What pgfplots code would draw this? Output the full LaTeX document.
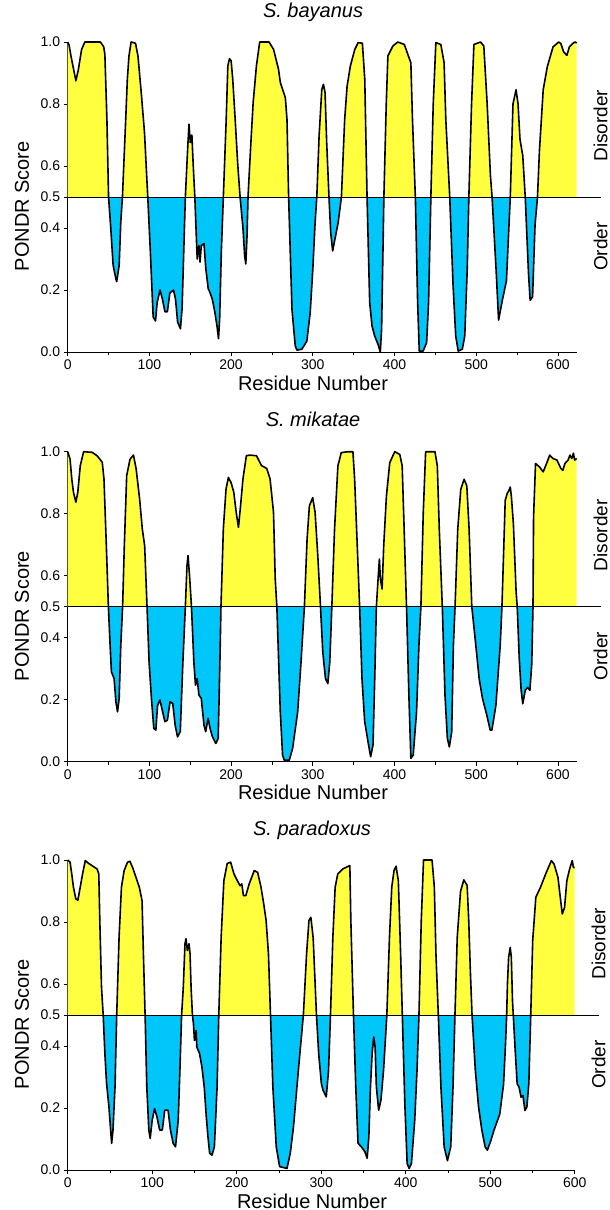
\documentclass[border=0pt]{standalone}
\usepackage{fontspec}
\setmainfont{Liberation Sans}
\usepackage{pgfplots}
\pgfplotsset{compat=1.18}
\usepackage{pgfplotstable}

\definecolor{dis}{RGB}{255,255,64}
\definecolor{ord}{RGB}{0,198,250}

% PONDR scores
\pgfplotstableread{
x y
0 1.0
1.7 0.99
4 0.955
10 0.875
13 0.91
17 0.976
21 1.0
40 1.0
44 0.985
45.5 0.96
48 0.75
50 0.5
52.7 0.40
55.6 0.28
59 0.236
60 0.227
63 0.28
65 0.42
67 0.5
71 0.75
73 0.88
75 0.955
77.6 1.0
83 0.996
86 0.955
90 0.837
94 0.708
98 0.5
101 0.333
104.6 0.113
107.5 0.10
109.5 0.16
113 0.2
116 0.17
119 0.13
122 0.13
125 0.19
129.5 0.2
132 0.17
134.5 0.097
138 0.075
140 0.14
142 0.32
144 0.5
147 0.665
148.5 0.735
150 0.676
152 0.70
153.5 0.61
155.6 0.5
157.7 0.354
158.5 0.30
160.6 0.343
162 0.29
163.5 0.343
166.8 0.35
169 0.27
172 0.204
174 0.193
177 0.17
180 0.13
182.6 0.086
184.6 0.043
186 0.107
188 0.32
190.5 0.5
194 0.75
196 0.923
198 0.946
200 0.94
202 0.88
205 0.75
208 0.61
211 0.5
214.5 0.40
216.6 0.31
218 0.284
219.5 0.375
220.7 0.5
224 0.665
227 0.805
231 0.923
235 1.0
246.5 1.0
252 0.976
258 0.912
260.3 0.869
266.4 0.82
268.4 0.75
270.4 0.5
274.5 0.138
278.5 0.02
280.6 0.006
286.6 0.009
292.7 0.035
296.8 0.127
300 0.267
302.8 0.417
304.9 0.5
307.7 0.697
311 0.847
313 0.863
315 0.837
317 0.675
319.8 0.5
321.9 0.385
324.3 0.326
327 0.363
331 0.417
335 0.5
339 0.75
342 0.858
346 0.923
351.4 0.976
355.5 0.998
360.7 0.996
363.6 0.88
366.4 0.5
369.6 0.16
372.5 0.084
375.7 0.052
379.8 0.025
382.6 0.0
384.2 0.073
387 0.5
389.9 0.80
391.9 0.955
398 0.987
404 1.0
412 0.992
417 0.955
420 0.933
422 0.75
425.5 0.5
428.3 0.16
430.3 0.003
435 0.003
439.3 0.03
441.7 0.16
444.5 0.5
447.4 0.80
450.6 0.998
456.7 0.992
460.7 0.933
462.8 0.75
467.6 0.5
471.7 0.213
474.9 0.052
478 0.003
483 0.009
486 0.052
489 0.267
491 0.5
494.3 0.80
497.2 0.992
505.3 1.0
509.3 0.987
513.4 0.80
517.4 0.57
519.4 0.5
524.3 0.267
527.4 0.103
532 0.167
537 0.23
541.7 0.5
545 0.8
548.8 0.846
551.2 0.80
553.6 0.686
557 0.633
560 0.5
564 0.253
566 0.167
569 0.178
572 0.41
575 0.5
577.4 0.65
582 0.846
587 0.92
594 0.984
601 1.0
603.6 0.995
607 0.968
611 0.957
614 0.984
618 0.995
621 1.0
623 0.997
}\bayanus

\pgfplotstableread{
x y
0 1.0
2.9 0.976
5 0.912
7 0.87
10 0.837
12.4 0.87
15.4 0.955
19.5 1.0
30 0.998
36 0.987
42.3 0.966
44.4 0.912
47.3 0.697
49.8 0.5
51.9 0.376
53.5 0.29
56.8 0.268
59 0.193
61 0.161
63 0.204
65 0.376
67.2 0.5
69.3 0.697
72.2 0.923
76.3 0.976
80.5 0.989
83.8 0.944
88 0.848
91.3 0.751
94.2 0.697
97.1 0.5
99.6 0.322
102.5 0.204
105.4 0.107
107.9 0.102
110 0.182
112.9 0.199
116.2 0.161
119 0.129
122 0.134
125.3 0.193
128.6 0.188
131.5 0.118
134.4 0.08
137.8 0.097
141 0.322
144 0.5
146 0.633
147.3 0.665
149.4 0.59
151.5 0.5
154.4 0.322
156.4 0.247
158.5 0.268
160.6 0.215
163.5 0.204
166.8 0.118
168.9 0.097
171.8 0.14
174.3 0.107
177.2 0.08
181.3 0.059
184.2 0.075
186.3 0.322
187.6 0.5
190.5 0.751
193.8 0.88
196.7 0.917
200 0.90
203.3 0.869
206.2 0.805
209 0.756
211.6 0.826
214.5 0.912
218.7 0.987
222.8 0.989
231 0.987
237.3 0.955
243.6 0.946
247.7 0.912
251.9 0.805
254 0.59
256 0.5
260.2 0.161
263 0.021
265.1 0.005
271.2 0.005
275.3 0.043
281.5 0.161
285.6 0.322
289.7 0.5
293 0.718
295.8 0.825
299.9 0.852
302.8 0.804
306.1 0.665
309.4 0.5
312.2 0.354
315.5 0.268
318.4 0.252
320.8 0.322
323.3 0.5
326.6 0.75
330.7 0.954
334.8 0.997
343 1.0
349.1 1.0
351.2 0.911
354.4 0.697
357.3 0.5
360.2 0.268
363.5 0.129
367.6 0.064
370.8 0.016
373.7 0.054
375.8 0.268
377.8 0.5
379.9 0.59
381.5 0.654
382.7 0.59
384.8 0.557
386.8 0.697
390.1 0.857
394.2 0.965
400.3 1.0
406.5 0.991
409.4 0.954
411.8 0.75
414.7 0.5
417.6 0.214
420 0.011
422.9 0.021
427 0.161
429.9 0.376
432.3 0.5
435.2 0.804
438.1 1.0
449.5 1.0
452.4 0.954
454.8 0.75
458.5 0.5
461.8 0.214
464.7 0.075
467.1 0.048
470 0.096
472.1 0.376
474.1 0.5
477.4 0.75
481.1 0.879
485.2 0.911
488.5 0.89
491.3 0.75
494.6 0.5
499.5 0.376
503.6 0.268
507.7 0.204
513 0.15
517.1 0.102
519.2 0.102
524.1 0.182
529.4 0.376
531.5 0.5
535.5 0.843
537.9 0.865
540.2 0.876
541.7 0.886
543.1 0.854
545.5 0.768
548.8 0.55
550.2 0.5
552.6 0.337
555 0.23
557 0.187
560 0.23
563 0.24
565.7 0.23
568 0.315
569.5 0.5
570.2 0.79
572.6 0.962
577.4 0.951
582 0.935
587 0.968
590 0.989
594 0.978
598.8 0.973
603.6 0.946
606 0.94
608.6 0.962
612.4 0.973
614.8 0.989
617 0.978
619 0.995
620.5 0.973
623 0.978
}\mikatae

\pgfplotstableread{
x y
0 1.0
2.8 0.993
4.8 0.955
6.8 0.912
9.6 0.875
12 0.87
14.8 0.912
17.6 0.955
20.8 0.998
24.8 0.989
28.8 0.982
34.8 0.971
36.8 0.955
38 0.805
40 0.59
42 0.5
44 0.376
46 0.279
48.8 0.204
50.8 0.129
52 0.086
53.6 0.129
56 0.268
58 0.5
60.8 0.751
63.6 0.912
66.8 0.966
70.8 0.993
73.6 0.996
76.8 0.976
80.8 0.944
84.8 0.912
88 0.869
89.6 0.697
91.6 0.5
93.6 0.268
96 0.129
97.6 0.102
100 0.161
102.8 0.198
105.6 0.172
108.8 0.129
112 0.129
114.8 0.193
118.8 0.193
121.6 0.129
124.8 0.086
127.6 0.075
130.8 0.161
132.8 0.322
134.8 0.5
136.8 0.59
138.8 0.73
140 0.746
141.6 0.708
143.6 0.73
144.8 0.697
146 0.59
147.6 0.5
148.8 0.473
150 0.418
152 0.45
152.8 0.397
156 0.376
158.8 0.333
161.6 0.268
164 0.172
166 0.107
168 0.054
170.8 0.048
173.6 0.075
176.8 0.268
178.8 0.5
181.6 0.751
184.8 0.933
188.8 0.989
192.8 0.993
196.8 0.955
200.8 0.933
204 0.917
206 0.923
208 0.885
210.8 0.885
214.8 0.923
220.8 0.966
224.8 0.96
228.8 0.912
232 0.858
234.8 0.805
237.6 0.697
240 0.5
242.8 0.268
246.8 0.075
250.8 0.011
259.5 0.005
263.4 0.054
267.2 0.139
273 0.322
278.9 0.5
282.7 0.697
285.5 0.805
287.8 0.815
290.5 0.749
294.4 0.5
297 0.376
300.2 0.279
302.1 0.258
306 0.236
308.7 0.322
311 0.5
313.8 0.751
316.5 0.912
319.6 0.955
325.4 0.971
333.9 0.982
335.1 0.803
338.2 0.5
340.9 0.268
343.6 0.086
347.5 0.075
351.7 0.059
354.4 0.038
356.4 0.107
358.3 0.268
360.3 0.376
362.2 0.429
363.8 0.397
365.3 0.268
368 0.193
370.7 0.225
373.8 0.322
377.7 0.5
380.8 0.751
383.5 0.912
386.2 0.966
388.6 0.98
391.3 0.933
394 0.697
396 0.5
399 0.212
401.7 0.021
404.1 0.005
406.8 0.021
410.7 0.161
413.4 0.322
415.7 0.5
418.4 0.803
421.1 1.0
431.2 1.0
433.9 0.912
435.8 0.697
438.6 0.5
441.7 0.268
445.5 0.075
449.4 0.03
453.3 0.075
456 0.268
458.3 0.5
461 0.751
464.9 0.899
468.8 0.936
472.7 0.918
474.6 0.805
476.5 0.644
478.5 0.5
482.4 0.322
486.2 0.204
490.1 0.129
494 0.075
496.7 0.064
501 0.097
504.4 0.128
511.3 0.18
515.8 0.276
518.1 0.404
519.5 0.5
520.4 0.6
521.8 0.686
523.7 0.718
525 0.686
526.4 0.546
527.3 0.5
529.6 0.385
531.9 0.278
534.2 0.267
536.5 0.235
538.8 0.24
541.1 0.192
543.4 0.203
545.7 0.278
548 0.5
550.3 0.74
554 0.88
559.5 0.912
566.4 0.96
572.4 0.998
575.6 0.987
580.2 0.944
582.5 0.89
585.3 0.826
588 0.847
590.7 0.933
594 0.971
597.1 0.998
598.5 0.976
600 0.976
}\paradoxus

\pgfplotsset{
  pondr/.style={
    scale only axis, height=310pt,
    xmin=0, ymin=0, ymax=1,
    axis x line*=bottom, axis y line*=left,
    axis line style={line width=1pt},
    ytick={0,0.2,0.4,0.5,0.6,0.8,1},
    yticklabel style={/pgf/number format/.cd, fixed, fixed zerofill, precision=1, assume math mode=true},
    xticklabel style={/pgf/number format/assume math mode=true},
    xtick={0,100,...,600}, minor xtick={50,150,...,550},
    tick align=outside, major tick length=4pt, minor tick length=3pt,
    tick style={black, line width=0.8pt},
    tick label style={font=\fontsize{14}{16}\selectfont},
    xlabel={Residue Number}, ylabel={PONDR Score},
    xlabel style={font=\fontsize{20}{22}\selectfont, at={(axis description cs:0.482,-0.1226)}, anchor=base},
    ylabel style={font=\fontsize{20}{22}\selectfont, at={(axis description cs:-0.09,0.47)}, anchor=center},
    title style={font=\fontsize{20}{22}\selectfont\itshape, at={(axis description cs:0.482,1.061)}, anchor=base},
    clip=false,
  },
}

% fills, 0.5 line, outline and side labels for one panel
\newcommand{\panel}[2]{%
  \begin{scope}
    \clip (axis cs:0,0.5) rectangle (axis cs:#2,1.1);
    \addplot[fill=dis, draw=none] table {#1} -- (axis cs:#2,0.5) -- (axis cs:0,0.5) -- cycle;
  \end{scope}
  \begin{scope}
    \clip (axis cs:0,-0.1) rectangle (axis cs:#2,0.5);
    \addplot[fill=ord, draw=none] table {#1} -- (axis cs:#2,0.5) -- (axis cs:0,0.5) -- cycle;
  \end{scope}
  \draw[black, line width=0.9pt] (axis cs:0,0.5) -- (axis description cs:1.047,0.5);
  \addplot[black, line width=1.6pt, line join=round] table {#1};
  \node[rotate=90, font=\fontsize{19}{21}\selectfont] at (axis description cs:1.047,0.73) {Disorder};
  \node[rotate=90, font=\fontsize{19}{21}\selectfont] at (axis description cs:1.047,0.34) {Order};
}

\begin{document}
\begin{tikzpicture}
\path[use as bounding box] (0,0) rectangle (610pt,-1210pt);

\begin{axis}[pondr, width=509pt, xmax=623, at={(67.7pt,-352pt)}, anchor=south west,
  title={S. bayanus}]
\panel{\bayanus}{623}
\end{axis}

\begin{axis}[pondr, width=509pt, xmax=623, at={(67.7pt,-761.7pt)}, anchor=south west,
  title={S. mikatae}]
\panel{\mikatae}{623}
\end{axis}

\begin{axis}[pondr, width=507pt, xmax=600, at={(67.7pt,-1170pt)}, anchor=south west,
  title={S. paradoxus}]
\panel{\paradoxus}{600}
\end{axis}

\end{tikzpicture}
\end{document}
